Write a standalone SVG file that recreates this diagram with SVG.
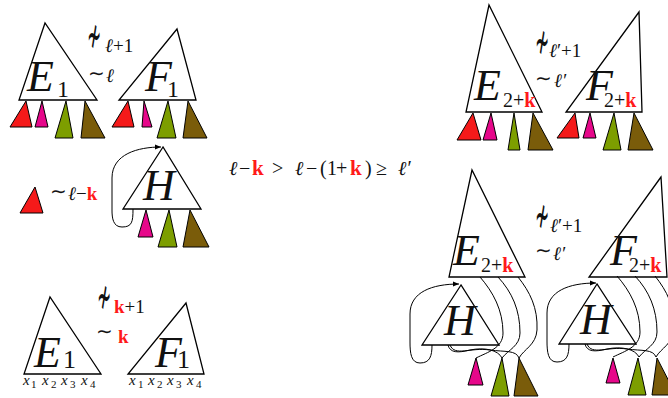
<svg xmlns="http://www.w3.org/2000/svg" width="668" height="398" viewBox="0 0 668 398">
<defs>
<style>
.tri{fill:#fff;stroke:#000;stroke-width:1.3;stroke-linejoin:miter}
.r{fill:#f51a1a;stroke:#000;stroke-width:1}
.p{fill:#e6078a;stroke:#000;stroke-width:1}
.g{fill:#7d9e00;stroke:#000;stroke-width:1}
.b{fill:#7a5c0a;stroke:#000;stroke-width:1}
.c{fill:none;stroke:#000;stroke-width:1}
text{font-family:"Liberation Serif","DejaVu Serif",serif;fill:#111}
.big{font-style:italic;font-size:44px}
.it{font-style:italic}
.k{fill:#ff1a1a;font-weight:bold}
.rel{font-family:"DejaVu Sans",sans-serif}
.nsim{font-family:"DejaVu Sans",sans-serif;font-size:38px}
</style>
<marker id="ah" viewBox="0 0 10 10" refX="10" refY="5" markerWidth="6" markerHeight="6" orient="auto" markerUnits="userSpaceOnUse">
<path d="M0,1 L10,5 L0,9 z" fill="#000"/>
</marker>
</defs>
<rect width="668" height="398" fill="#fff"/>

<!-- Top-left: E1 ~ F1 with subtrees -->
<g id="tl-E1">
<polygon class="tri" points="45,23 19,100 97,100"/>
<text class="big" x="27" y="91">E</text>
<text x="57" y="97" font-size="24">1</text>
</g>
<g id="tl-E1-subtrees">
<polygon class="r" points="26,101 10,127 32,127"/>
<polygon class="p" points="42,101 35,127 48,127"/>
<polygon class="g" points="66,101 55,138 73,138"/>
<polygon class="b" points="85,101 81,138 105,138"/>
</g>
<g id="tl-F1">
<polygon class="tri" points="177,29 119,100 196,100"/>
<text class="big" x="145" y="91">F</text>
<text x="167" y="97" font-size="24">1</text>
</g>
<g id="tl-F1-subtrees">
<polygon class="r" points="128,101 112,127 134,127"/>
<polygon class="p" points="144,101 142,127 152,127"/>
<polygon class="g" points="168,101 157,138 176,138"/>
<polygon class="b" points="188,101 183,138 207,138"/>
</g>
<g id="tl-rel">
<text class="nsim" transform="translate(87,52) scale(0.45,1.3)">≁</text>
<text x="105" y="52" font-size="19"><tspan class="it">ℓ</tspan>+1</text>
<text class="rel" x="88" y="80" font-size="20">∼</text>
<text x="106" y="82" font-size="19" class="it">ℓ</text>
</g>

<!-- Middle-left: red subtree ~ H -->
<g id="ml-red">
<polygon class="r" points="35,187 20,213 43,213"/>
</g>
<g id="ml-rel">
<text class="rel" x="50" y="198" font-size="20">∼</text>
<text x="68" y="200" font-size="19"><tspan class="it">ℓ</tspan>−<tspan class="k">k</tspan></text>
</g>
<g id="ml-H">
<polygon class="tri" points="163,147 123,209 201,209"/>
<text class="big" x="143" y="200">H</text>
</g>
<g id="ml-H-subtrees">
<polygon class="p" points="146,210 138,237 153,237"/>
<polygon class="g" points="169,210 158,247 177,247"/>
<polygon class="b" points="190,210 183,247 209,247"/>
</g>

<!-- Middle inequality -->
<g id="inequality">
<text y="175" font-size="20">
<tspan x="229" class="it">ℓ</tspan><tspan x="239">−</tspan><tspan x="252" class="k" font-size="21">k</tspan><tspan x="272">&gt;</tspan><tspan x="295" class="it">ℓ</tspan><tspan x="306">−</tspan><tspan x="320">(</tspan><tspan x="327">1</tspan><tspan x="336">+</tspan><tspan x="350" class="k" font-size="21">k</tspan><tspan x="365">)</tspan><tspan x="376">≥</tspan><tspan x="398" class="it">ℓ′</tspan>
</text>
</g>

<!-- Bottom-left: E1 ~k F1 -->
<g id="bl-E1">
<polygon class="tri" points="50,297 24,374 101,374"/>
<text class="big" x="34" y="367">E</text>
<text x="63" y="368" font-size="26">1</text>
<text y="385" font-size="15"><tspan x="23" class="it">x</tspan><tspan x="31" font-size="11" dy="3">1</tspan><tspan x="42" class="it" dy="-3">x</tspan><tspan x="51" font-size="11" dy="3">2</tspan><tspan x="61" class="it" dy="-3">x</tspan><tspan x="70" font-size="11" dy="3">3</tspan><tspan x="81" class="it" dy="-3">x</tspan><tspan x="90" font-size="11" dy="3">4</tspan></text>
</g>
<g id="bl-F1">
<polygon class="tri" points="186,303 128,374 204,374"/>
<text class="big" x="155" y="367">F</text>
<text x="177" y="368" font-size="26">1</text>
<text y="385" font-size="15"><tspan x="129" class="it">x</tspan><tspan x="138" font-size="11" dy="3">1</tspan><tspan x="148" class="it" dy="-3">x</tspan><tspan x="157" font-size="11" dy="3">2</tspan><tspan x="167" class="it" dy="-3">x</tspan><tspan x="176" font-size="11" dy="3">3</tspan><tspan x="187" class="it" dy="-3">x</tspan><tspan x="196" font-size="11" dy="3">4</tspan></text>
</g>
<g id="bl-rel">
<text class="nsim" transform="translate(97,313) scale(0.45,1.3)">≁</text>
<text x="114" y="313" font-size="19"><tspan class="k">k</tspan>+1</text>
<text class="rel" x="96" y="338" font-size="20">∼</text>
<text x="118" y="343" font-size="19" class="k">k</text>
</g>

<!-- Top-right: E2+k ~l' F2+k -->
<g id="tr-E">
<polygon class="tri" points="489,5 466,112 542,112"/>
<text class="big" x="474" y="100">E</text>
<text x="503" y="107" font-size="20">2+<tspan class="k">k</tspan></text>
</g>
<g id="tr-E-subtrees">
<polygon class="r" points="473,113 457,140 481,140"/>
<polygon class="p" points="491,113 483,140 497,140"/>
<polygon class="g" points="514,113 508,150 520,150"/>
<polygon class="b" points="533,113 528,150 553,150"/>
</g>
<g id="tr-F">
<polygon class="tri" points="639,12 566,112 642,112"/>
<text class="big" x="586" y="100">F</text>
<text x="604" y="107" font-size="20">2+<tspan class="k">k</tspan></text>
</g>
<g id="tr-F-subtrees">
<polygon class="r" points="575,113 557,138 579,138"/>
<polygon class="p" points="590,113 583,138 596,138"/>
<polygon class="g" points="614,113 603,150 621,150"/>
<polygon class="b" points="634,113 628,150 653,150"/>
</g>
<g id="tr-rel">
<text class="nsim" transform="translate(535,58) scale(0.45,1.3)">≁</text>
<text x="549" y="57" font-size="19"><tspan class="it">ℓ</tspan>′+1</text>
<text class="rel" x="535" y="85" font-size="20">∼</text>
<text x="554" y="87" font-size="19" class="it">ℓ′</text>
</g>

<!-- Bottom-right -->
<g id="br-E">
<polygon class="tri" points="472,170 449,277 525,277"/>
<text class="big" x="453" y="265">E</text>
<text x="481" y="272" font-size="20">2+<tspan class="k">k</tspan></text>
</g>
<g id="br-F">
<polygon class="tri" points="661,177 589,277 667,277"/>
<text class="big" x="610" y="265">F</text>
<text x="629" y="272" font-size="20">2+<tspan class="k">k</tspan></text>
</g>
<g id="br-rel">
<text class="nsim" transform="translate(535,232) scale(0.45,1.3)">≁</text>
<text x="550" y="232" font-size="19"><tspan class="it">ℓ</tspan>′+1</text>
<text class="rel" x="535" y="257" font-size="20">∼</text>
<text x="553" y="260" font-size="19" class="it">ℓ′</text>
</g>
<g id="br-H1">
<polygon class="tri" points="461,285 422,345 499,345"/>
<text class="big" x="444" y="335">H</text>
</g>
<g id="br-H1-subtrees">
<polygon class="p" points="476,358 468,385 483,385"/>
<polygon class="g" points="502,358 491,396 509,396"/>
<polygon class="b" points="519,358 514,396 538,396"/>
</g>
<g id="br-H2">
<polygon class="tri" points="597,284 559,344 636,344"/>
<text class="big" x="580" y="334">H</text>
</g>
<g id="br-H2-subtrees">
<polygon class="p" points="613,358 606,383 620,383"/>
<polygon class="g" points="638,358 628,395 646,395"/>
<polygon class="b" points="657,358 652,395 676,395"/>
</g>

<g id="connectors">
<path class="c" marker-end="url(#ah)" d="M133,209 C133,222 132,227 122,227 C113,227 112,218 112,210 L112,178 C112,154 138,147 161,147"/>
<g id="br-links-left">
<path class="c" marker-end="url(#ah)" d="M432,345 C432,356 430,363 420,363 C411,363 410,353 410,342 L410,314 C410,292 432,284 459,284"/>
<path class="c" d="M480,277 C493,292 503,310 503,333 C503,348 488,352 476,358"/>
<path class="c" d="M498,277 C512,292 520,310 520,333 C520,346 508,350 502,358"/>
<path class="c" d="M518,277 C530,292 538,308 537,330 C536,345 524,349 519,358"/>
<path class="c" d="M448,345 C450,353 458,353 470,350 C485,347 498,350 502,358"/>
<path class="c" d="M450,345 C455,357 470,347 490,350 C505,352 516,350 519,358"/>
</g>
<g id="br-links-right" transform="translate(137,-1)">
<path class="c" marker-end="url(#ah)" d="M432,345 C432,356 430,363 420,363 C411,363 410,353 410,342 L410,314 C410,292 432,284 459,284"/>
<path class="c" d="M480,277 C493,292 503,310 503,333 C503,348 488,352 476,358"/>
<path class="c" d="M498,277 C512,292 520,310 520,333 C520,346 508,350 502,358"/>
<path class="c" d="M518,277 C530,292 538,308 537,330 C536,345 524,349 519,358"/>
<path class="c" d="M448,345 C450,353 458,353 470,350 C485,347 498,350 502,358"/>
<path class="c" d="M450,345 C455,357 470,347 490,350 C505,352 516,350 519,358"/>
</g>
</g>
</svg>
